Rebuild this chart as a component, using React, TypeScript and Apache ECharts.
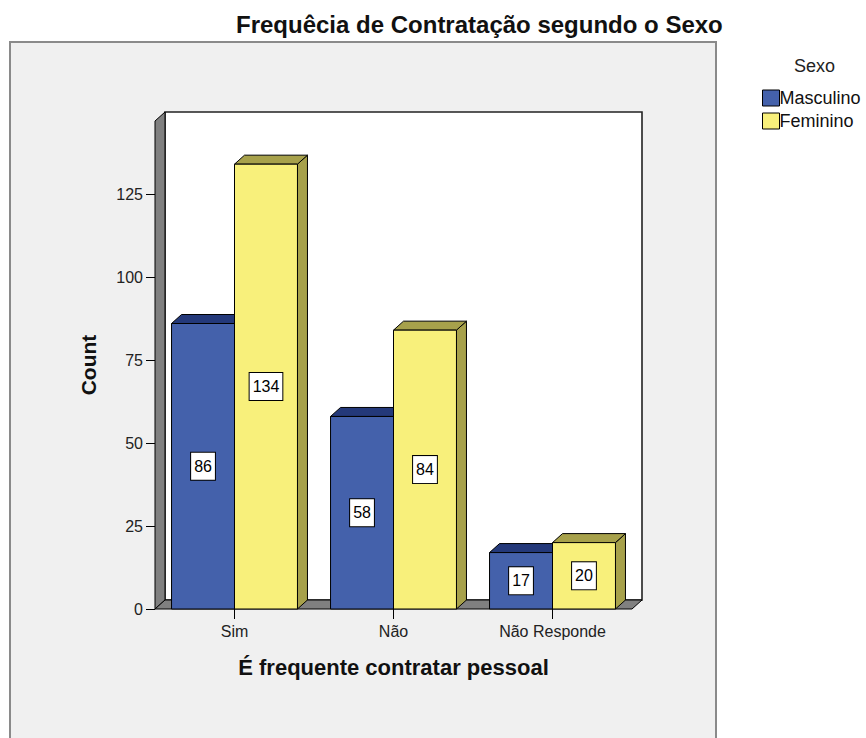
import React, { useEffect, useRef } from "react";
import * as echarts from "echarts";

const categories = ["Sim", "Não", "Não Responde"];
const masculino = [86, 58, 17];
const feminino = [134, 84, 20];
const yTicks = [0, 25, 50, 75, 100, 125];
const seriesNames = ["Masculino", "Feminino"];

const BLUE = { front: "#4461ab", top: "#24397a", side: "#2a4488" };
const YELLOW = { front: "#f8f07b", top: "#a7a14b", side: "#a7a14b" };
const DX = 10;
const DY = -9;
const BAR_FRAC = 0.396;
const TICK_LEN = 9;
const FONT = "'Liberation Sans', Arial, sans-serif";

function makeBarRenderer(side: number, col: { front: string; top: string; side: string }) {
  return (params: any, api: any) => {
    const cat = api.value(0);
    const val = api.value(1);
    const base = api.coord([cat, 0]);
    const top = api.coord([cat, val]);
    const band = api.size([1, 0])[0];
    const w = band * BAR_FRAC;
    const x0 = side < 0 ? base[0] - w : base[0];
    const x1 = x0 + w;
    const y0 = base[1];
    const yt = top[1];
    const stroke = { stroke: "#000", lineWidth: 1 };
    return {
      type: "group",
      children: [
        {
          type: "polygon",
          shape: { points: [[x1, yt], [x1 + DX, yt + DY], [x1 + DX, y0 + DY], [x1, y0]] },
          style: { fill: col.side, ...stroke },
        },
        {
          type: "polygon",
          shape: { points: [[x0, yt], [x0 + DX, yt + DY], [x1 + DX, yt + DY], [x1, yt]] },
          style: { fill: col.top, ...stroke },
        },
        {
          type: "rect",
          shape: { x: x0, y: yt, width: w, height: y0 - yt },
          style: { fill: col.front, ...stroke },
        },
        {
          type: "text",
          x: (x0 + x1) / 2,
          y: (y0 + yt) / 2,
          style: {
            text: String(val),
            fontSize: 16,
            fontFamily: FONT,
            fill: "#000",
            align: "center",
            verticalAlign: "middle",
            backgroundColor: "#fff",
            borderColor: "#000",
            borderWidth: 1,
            padding: [6, 3, 5, 3],
          },
        },
      ],
    };
  };
}

function renderWalls(params: any, api: any) {
  const cs = params.coordSys;
  const x = cs.x, y = cs.y, w = cs.width, h = cs.height;
  const ticks = yTicks.map((v) => {
    const py = Math.round(api.coord([0, v])[1]) + 0.5;
    return {
      type: "line",
      shape: { x1: x - TICK_LEN, y1: py, x2: x, y2: py },
      style: { stroke: "#000", lineWidth: 1 },
    };
  });
  return {
    type: "group",
    children: [
      {
        type: "rect",
        shape: { x: x + DX, y: y + DY, width: w, height: h },
        style: { fill: "#fff", stroke: "#222", lineWidth: 1.6 },
      },
      {
        type: "polygon",
        shape: { points: [[x, y], [x + DX, y + DY], [x + DX, y + h + DY], [x, y + h]] },
        style: { fill: "#808080", stroke: "#000", lineWidth: 1 },
      },
      {
        type: "polygon",
        shape: { points: [[x, y + h], [x + DX, y + h + DY], [x + w + DX, y + h + DY], [x + w, y + h]] },
        style: { fill: "#808080", stroke: "#000", lineWidth: 1 },
      },
      ...ticks,
    ],
  };
}

export default function App() {
  const ref = useRef<HTMLDivElement>(null);
  useEffect(() => {
    if (!ref.current) return;
    const chart = echarts.init(ref.current, undefined, { renderer: "svg" });
    const toData = (arr: number[]) => arr.map((v, i) => [i, v]);
    chart.setOption({
      animation: false,
      backgroundColor: "#fff",
      textStyle: { fontFamily: FONT },
      graphic: [
        {
          type: "rect",
          z: -10,
          shape: { x: 10, y: 42, width: 706, height: 720 },
          style: { fill: "#f0f0f0", stroke: "#8a8a8a", lineWidth: 2 },
        },
      ],
      title: [
        {
          text: "Frequêcia de Contratação segundo o Sexo",
          left: 231,
          top: 7,
          textStyle: { fontSize: 24, fontWeight: "bold", color: "#111", fontFamily: FONT },
        },
        {
          text: "Sexo",
          left: 789,
          top: 52,
          textStyle: { fontSize: 18, fontWeight: "normal", color: "#222", fontFamily: FONT },
        },
      ],
      legend: {
        orient: "vertical",
        left: 757,
        top: 84,
        itemWidth: 17,
        itemHeight: 16,
        itemGap: 5,
        textStyle: { fontSize: 18, color: "#111", fontFamily: FONT, padding: [0, 0, 0, -5] },
        data: [
          { name: seriesNames[0], icon: "rect", itemStyle: { color: BLUE.front, borderColor: "#000", borderWidth: 1 } },
          { name: seriesNames[1], icon: "rect", itemStyle: { color: YELLOW.front, borderColor: "#000", borderWidth: 1 } },
        ],
      },
      grid: { left: 155, right: 234, top: 121, bottom: 129 },
      xAxis: {
        type: "category",
        data: categories,
        name: "É frequente contratar pessoal",
        nameLocation: "middle",
        nameGap: 47,
        nameTextStyle: { fontSize: 22, fontWeight: "bold", color: "#111", fontFamily: FONT },
        axisLine: { show: false },
        axisTick: { show: true, alignWithLabel: true, length: 10, lineStyle: { color: "#000" } },
        axisLabel: { fontSize: 16, color: "#222", margin: 14, fontFamily: FONT },
        splitLine: { show: false },
      },
      yAxis: {
        type: "value",
        min: 0,
        max: 147,
        interval: 25,
        name: "Count",
        nameLocation: "middle",
        nameGap: 56,
        nameRotate: 90,
        nameTextStyle: { fontSize: 21, fontWeight: "bold", color: "#111", fontFamily: FONT },
        axisLine: { show: false },
        axisTick: { show: false },
        axisLabel: {
          fontSize: 16,
          color: "#222",
          margin: 12,
          fontFamily: FONT,
          customValues: yTicks,
        },
        splitLine: { show: false },
      },
      series: [
        {
          type: "custom",
          name: "walls",
          z: 1,
          silent: true,
          renderItem: renderWalls,
          data: [[0, 0]],
          encode: { x: 0, y: 1 },
        },
        {
          type: "custom",
          name: seriesNames[0],
          z: 2,
          itemStyle: { color: BLUE.front },
          renderItem: makeBarRenderer(-1, BLUE),
          data: toData(masculino),
          encode: { x: 0, y: 1 },
        },
        {
          type: "custom",
          name: seriesNames[1],
          z: 3,
          itemStyle: { color: YELLOW.front },
          renderItem: makeBarRenderer(1, YELLOW),
          data: toData(feminino),
          encode: { x: 0, y: 1 },
        },
      ],
    });
    return () => chart.dispose();
  }, []);
  return (
    <div
      ref={ref}
      style={{ position: "fixed", left: 0, top: 0, width: 866, height: 738 }}
    />
  );
}
